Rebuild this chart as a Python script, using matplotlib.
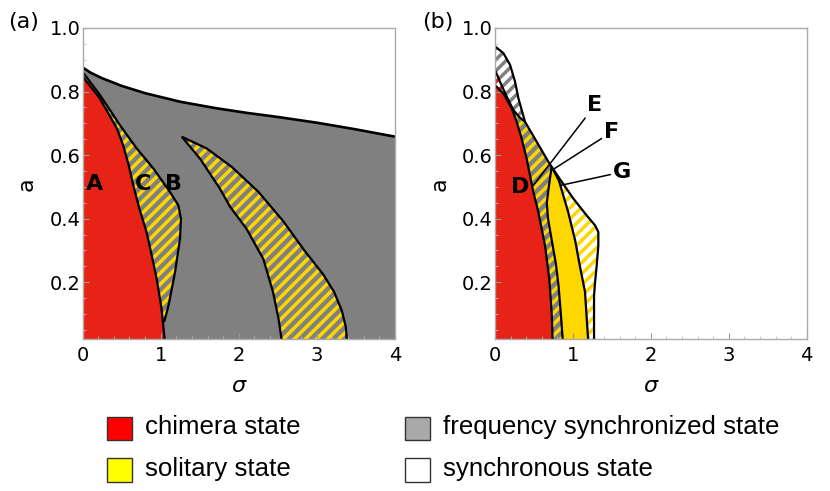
import numpy as np
import matplotlib.pyplot as plt
from matplotlib.patches import Polygon, Rectangle

plt.rcParams['font.family'] = 'DejaVu Sans'
plt.rcParams['hatch.linewidth'] = 2.5

RED = '#E62316'
GRAY = '#808080'
YELLOW = '#FFD700'
WHITE = '#FFFFFF'

# ---------------- panel (a) boundaries (sigma, a) ----------------
a_sync_sigma = [0, 0.1, 0.25, 0.5, 0.8, 1.25, 1.7, 2.1, 2.5, 3.0, 3.5, 4.0]
a_sync_a = [0.876, 0.86, 0.842, 0.818, 0.795, 0.768, 0.748, 0.733, 0.72, 0.702, 0.681, 0.658]

a_red_sigma = [0, 0.22, 0.44, 0.52, 0.59, 0.65, 0.73, 0.82, 0.89, 0.95, 1.01, 1.06]
a_red_a = [0.848, 0.779, 0.684, 0.631, 0.57, 0.505, 0.43, 0.358, 0.28, 0.21, 0.12, 0.0]

a_cb_sigma = [0, 0.224, 0.48, 0.694, 0.907, 1.12, 1.227, 1.26, 1.248, 1.184, 1.1, 1.045]
a_cb_a = [0.862, 0.789, 0.694, 0.621, 0.558, 0.484, 0.442, 0.4, 0.337, 0.231, 0.126, 0.075]

a_sol_left_sigma = [1.27, 1.504, 1.76, 1.89, 2.10, 2.315, 2.44, 2.51, 2.56]
a_sol_left_a = [0.658, 0.589, 0.494, 0.437, 0.368, 0.273, 0.168, 0.084, 0.0]
a_sol_right_sigma = [1.27, 1.59, 1.91, 2.25, 2.57, 2.84, 3.08, 3.22, 3.32, 3.37, 3.39]
a_sol_right_a = [0.658, 0.621, 0.563, 0.485, 0.392, 0.3, 0.225, 0.17, 0.11, 0.06, 0.0]

a_labels = ['A', 'C', 'B']
a_label_sigma = [0.16, 0.77, 1.17]
a_label_a = [0.51, 0.51, 0.51]

# ---------------- panel (b) boundaries ----------------
b_outer_sigma = [0, 0.107, 0.193, 0.257, 0.3, 0.342, 0.385, 0.535, 0.685, 0.727,
                 0.86, 1.0, 1.177, 1.284, 1.326, 1.326, 1.305, 1.284, 1.271, 1.271]
b_outer_a = [0.942, 0.921, 0.884, 0.831, 0.779, 0.742, 0.705, 0.642, 0.579, 0.563,
             0.515, 0.465, 0.41, 0.379, 0.358, 0.315, 0.252, 0.2, 0.158, 0.0]
b_junction = 9      # index of the point where E, F, G meet
b_band_end = 6      # index where the gray/white band closes

b_inner_sigma = [0, 0.064, 0.15, 0.235, 0.31, 0.385]
b_inner_a = [0.868, 0.831, 0.784, 0.742, 0.72, 0.705]

b_red_sigma = [0, 0.107, 0.214, 0.278, 0.342, 0.406, 0.449, 0.492, 0.556, 0.642, 0.697, 0.727, 0.742]
b_red_a = [0.82, 0.794, 0.747, 0.705, 0.652, 0.589, 0.536, 0.484, 0.421, 0.315, 0.21, 0.105, 0.0]

b_e_sigma = [0.727, 0.69, 0.665, 0.68, 0.73, 0.78, 0.815, 0.845, 0.875]
b_e_a = [0.563, 0.5, 0.45, 0.4, 0.33, 0.26, 0.19, 0.1, 0.0]

b_f_sigma = [0.727, 0.82, 0.94, 1.03, 1.09, 1.155, 1.2]
b_f_a = [0.563, 0.52, 0.42, 0.33, 0.25, 0.17, 0.0]

b_labels = ['D', 'E', 'F', 'G']
b_label_sigma = [0.32, 1.284, 1.5, 1.634]
b_label_a = [0.5, 0.757, 0.673, 0.547]
b_pointer_sigma = [None, 0.492, 0.727, 0.845]
b_pointer_a = [None, 0.505, 0.552, 0.505]

legend_labels = ['chimera state', 'solitary state', 'frequency synchronized state', 'synchronous state']
legend_colors = ['#FF0000', '#FFFF00', '#A9A9A9', '#FFFFFF']


def pts(s, a):
    return list(zip(s, a))


def fill(ax, xy, face, hatch_color=None):
    if hatch_color is None:
        ax.add_patch(Polygon(xy, closed=True, facecolor=face, edgecolor='none', linewidth=0))
    else:
        ax.add_patch(Polygon(xy, closed=True, facecolor=face, edgecolor=hatch_color,
                             hatch='///', linewidth=0))


def edge(ax, s, a, lw=1.6):
    ax.plot(s, a, color='black', lw=lw, solid_capstyle='butt')


def setup(ax):
    ax.set_xlim(0, 4)
    ax.set_ylim(0.02, 1.0)
    ax.set_xticks([0, 1, 2, 3, 4])
    ax.set_yticks([0.2, 0.4, 0.6, 0.8, 1.0])
    ax.set_yticklabels(['0.2', '0.4', '0.6', '0.8', '1.0'])
    ax.set_xticks(np.arange(0, 4.01, 0.2), minor=True)
    ax.set_yticks(np.arange(0.05, 1.0, 0.05), minor=True)
    ax.tick_params(which='major', direction='in', length=4, color='#999999', labelsize=14)
    ax.tick_params(which='minor', direction='in', length=2, color='#bbbbbb')
    ax.tick_params(axis='x', which='major', pad=4.5)
    ax.tick_params(axis='y', which='major', pad=1.5)
    for sp in ax.spines.values():
        sp.set_color('#aaaaaa')
        sp.set_linewidth(1.0)
    ax.set_xlabel('σ', fontsize=16, style='italic', labelpad=8)
    ax.set_ylabel('a', fontsize=16, labelpad=9)


fig = plt.figure(figsize=(8.3, 4.91), dpi=100)
ax1 = fig.add_axes([0.0994, 0.3086, 0.3765, 0.6344])
ax2 = fig.add_axes([0.5964, 0.3086, 0.3755, 0.6344])

# ---- panel (a)
fill(ax1, pts(a_sync_sigma, a_sync_a) + [(4, 0), (0, 0)], GRAY)
fill(ax1, pts(a_cb_sigma, a_cb_a) + [(0, a_cb_a[-1])], GRAY, YELLOW)
fill(ax1, pts(a_sol_left_sigma, a_sol_left_a) + pts(a_sol_right_sigma, a_sol_right_a)[::-1], GRAY, YELLOW)
fill(ax1, pts(a_red_sigma, a_red_a) + [(0, 0)], RED)
edge(ax1, a_sync_sigma, a_sync_a, lw=1.9)
edge(ax1, a_red_sigma, a_red_a)
edge(ax1, a_cb_sigma, a_cb_a)
edge(ax1, a_sol_left_sigma, a_sol_left_a)
edge(ax1, a_sol_right_sigma, a_sol_right_a)
for t, s, a in zip(a_labels, a_label_sigma, a_label_a):
    ax1.text(s, a, t, fontsize=16, fontweight='bold', ha='center', va='center')
setup(ax1)

# ---- panel (b)
outer = pts(b_outer_sigma, b_outer_a)
inner = pts(b_inner_sigma, b_inner_a)
fill(ax2, outer + [(0, 0)], WHITE, YELLOW)
fill(ax2, outer[:b_junction + 1] + pts(b_f_sigma, b_f_a)[1:] + [(0, 0)], YELLOW)
fill(ax2, outer[:b_junction + 1] + pts(b_e_sigma, b_e_a)[1:] + [(0, 0)], GRAY, YELLOW)
fill(ax2, outer[:b_band_end + 1] + inner[::-1], WHITE, GRAY)
meet = b_inner_sigma[3]
red_top = [(s, a) for s, a in zip(b_red_sigma, b_red_a) if s < meet]
fill(ax2, [p for p in inner if p[0] <= meet] + red_top[::-1], WHITE, RED)
fill(ax2, pts(b_red_sigma, b_red_a) + [(0, 0)], RED)
edge(ax2, b_outer_sigma, b_outer_a)
edge(ax2, b_inner_sigma, b_inner_a)
edge(ax2, b_red_sigma, b_red_a)
edge(ax2, b_e_sigma, b_e_a)
edge(ax2, b_f_sigma, b_f_a)
for t, s, a, ps, pa in zip(b_labels, b_label_sigma, b_label_a, b_pointer_sigma, b_pointer_a):
    if ps is None:
        ax2.text(s, a, t, fontsize=16, fontweight='bold', ha='center', va='center')
    else:
        ax2.annotate(t, xy=(ps, pa), xytext=(s, a), fontsize=16, fontweight='bold',
                     ha='center', va='center',
                     arrowprops=dict(arrowstyle='-', color='black', lw=1.1, shrinkA=0, shrinkB=0))
setup(ax2)

fig.text(0.0096, 0.956, '(a)', fontsize=16, va='center')
fig.text(0.508, 0.956, '(b)', fontsize=16, va='center')

# ---- legend below the panels
leg_x = [0.1286, 0.1286, 0.488, 0.488]
leg_y = [0.1039, 0.0189, 0.1039, 0.0189]
for lab, col, x, y in zip(legend_labels, legend_colors, leg_x, leg_y):
    fig.add_artist(Rectangle((x, y), 0.0301, 0.0475, transform=fig.transFigure,
                             facecolor=col, edgecolor='#333333', linewidth=1.0))
    fig.text(x + 0.0461, y + 0.0015, lab, fontsize=18.6, family='Liberation Sans', va='bottom')

fig.savefig('out.png', dpi=100)
